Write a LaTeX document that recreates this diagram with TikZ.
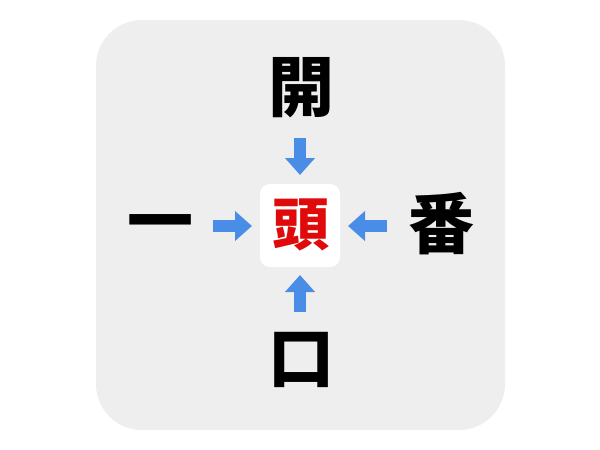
\documentclass[tikz,border=0pt]{standalone}
\usepackage{fontspec}
\newfontfamily\cjk{Noto Sans CJK JP}
\usetikzlibrary{arrows.meta}
\definecolor{panelgray}{HTML}{EEEEEE}
\definecolor{arrowblue}{HTML}{4A8DE6}
\definecolor{answerred}{HTML}{E00A0A}
\tikzset{
  clue/.style={inner sep=0pt, font=\cjk\bfseries\fontsize{66}{66}\selectfont, text=black},
  answer/.style={inner sep=0pt, font=\cjk\bfseries\fontsize{57}{57}\selectfont, text=answerred},
  barrow/.style={draw=arrowblue, line width=12pt, -{Triangle[width=29pt,length=17pt]}},
}
\begin{document}
\begin{tikzpicture}[x=1pt,y=-1pt]
\useasboundingbox (0,0) rectangle (600,450);
\fill[white] (0,0) rectangle (600,450);
\fill[panelgray, rounded corners=46pt] (96,20) rectangle (505,430);
\fill[white, rounded corners=10pt] (260,184) rectangle (340,267);
\node[answer] (c) at (301,225) {頭};
\node[clue] (t) at (301,88) {開};
\node[clue] (b) at (301,360) {口};
\node[clue] (l) at (160,230) {一};
\node[clue] (r) at (441,224) {番};
\coordinate (ts) at (300,138); \coordinate (te) at (300,175);
\coordinate (bs) at (300,312); \coordinate (be) at (300,275);
\coordinate (ls) at (213,226); \coordinate (le) at (252,226);
\coordinate (rs) at (387,226); \coordinate (re) at (348,226);
\draw[barrow] (ts) -- (te);
\draw[barrow] (bs) -- (be);
\draw[barrow] (ls) -- (le);
\draw[barrow] (rs) -- (re);
\end{tikzpicture}
\end{document}
